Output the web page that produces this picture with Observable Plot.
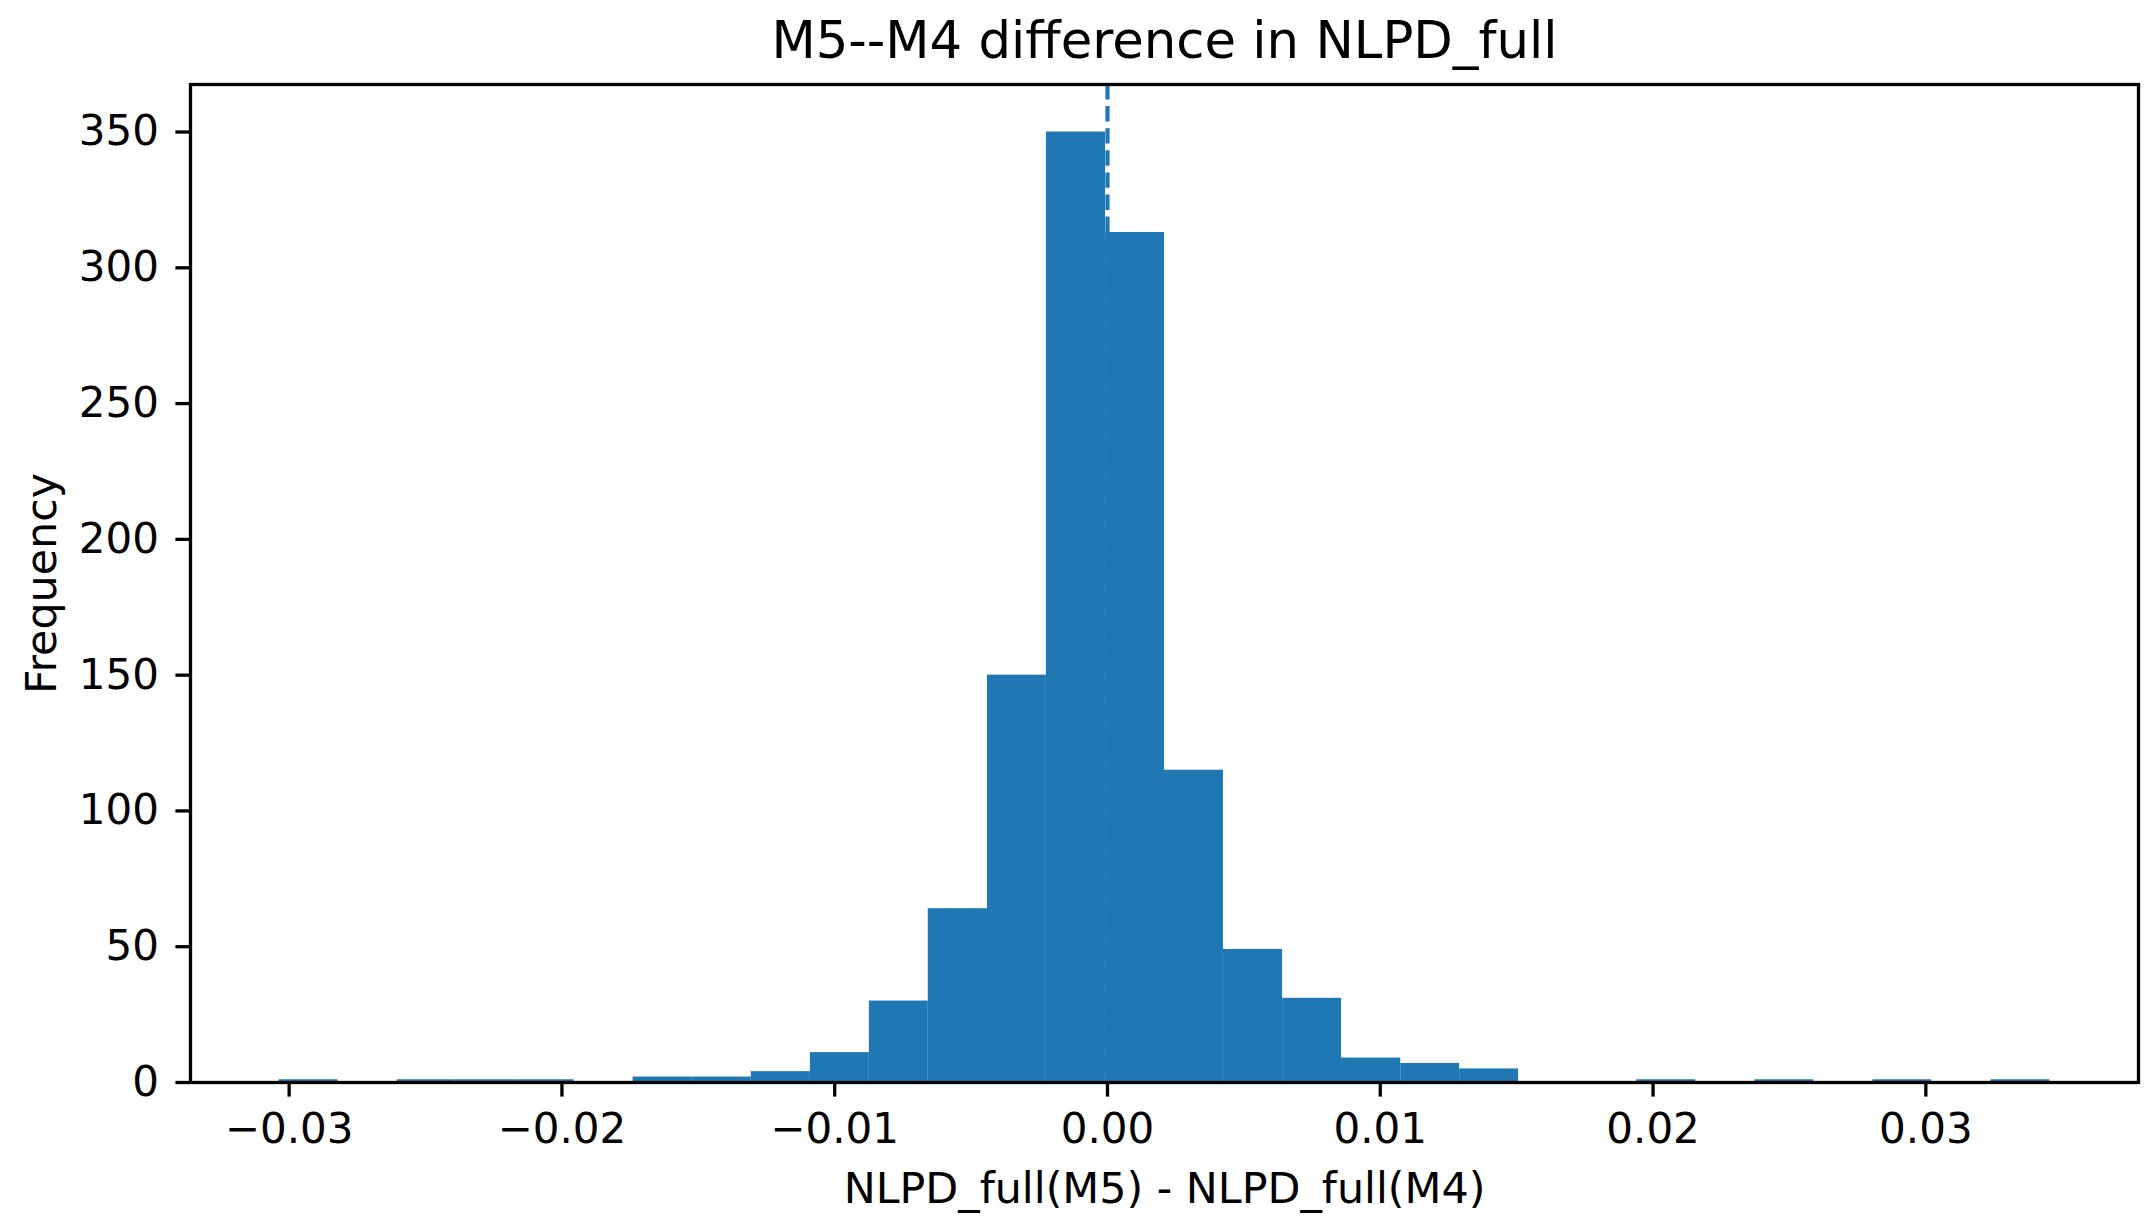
<!DOCTYPE html>
<html>
<head>
<meta charset="utf-8">
<script src="https://cdn.jsdelivr.net/npm/d3@7"></script>
<script src="https://cdn.jsdelivr.net/npm/@observablehq/plot@0.6"></script>
<style>
  html, body { margin: 0; padding: 0; background: #fff; }
</style>
</head>
<body>
<div id="chart"></div>
<script>
// ---- data ----
const binEdges = [
  -0.03037, -0.02821, -0.02604, -0.02388, -0.02171, -0.01955, -0.01739, -0.01522,
  -0.01306, -0.01089, -0.00873, -0.00657, -0.00440, -0.00224, -0.00007, 0.00209,
  0.00425, 0.00642, 0.00858, 0.01075, 0.01291, 0.01507, 0.01724, 0.01940,
  0.02157, 0.02373, 0.02589, 0.02806, 0.03022, 0.03239, 0.03455
];
const counts = [
  1, 0, 1, 1, 1, 0, 2, 2, 4, 11, 30, 64, 150, 350, 313,
  115, 49, 31, 9, 7, 5, 0, 0, 1, 0, 1, 0, 1, 0, 1
];
const xTicks = [-0.03, -0.02, -0.01, 0.00, 0.01, 0.02, 0.03];
const yTicks = [0, 50, 100, 150, 200, 250, 300, 350];
const referenceValue = [0];
const titleText = "M5--M4 difference in NLPD_full";
const xLabelText = "NLPD_full(M5) - NLPD_full(M4)";
const yLabelText = "Frequency";

const bins = counts.map((c, i) => ({x1: binEdges[i], x2: binEdges[i + 1], count: c}));
const fmt = d3.format(".2f");

const chart = Plot.plot({
  width: 2155,
  height: 1231,
  marginLeft: 190,
  marginRight: 17,
  marginTop: 84,
  marginBottom: 149,
  style: {
    fontFamily: "'DejaVu Sans', sans-serif",
    fontSize: "42px",
    background: "#fff",
    color: "#000"
  },
  x: {domain: [-0.033616, 0.037796], label: null},
  y: {domain: [0, 367.5], label: null},
  marks: [
    Plot.rectY(bins, {x1: "x1", x2: "x2", y1: 0, y2: "count", fill: "#1f77b4"}),
    Plot.ruleX(referenceValue, {stroke: "#1f77b4", strokeWidth: 4.2, strokeDasharray: "15.4,6.7"}),
    Plot.frame({stroke: "#000", strokeWidth: 3.3}),
    Plot.axisX({ticks: xTicks, tickFormat: fmt, tickSize: 14.6, tickPadding: 16, strokeWidth: 3.3, label: null}),
    Plot.axisY({ticks: yTicks, tickSize: 14.6, tickPadding: 17, strokeWidth: 3.3, label: null}),
    Plot.text([titleText], {text: d => d, frameAnchor: "top", dy: -27, lineAnchor: "bottom", textAnchor: "middle", fontSize: 51.3}),
    Plot.text([xLabelText], {text: d => d, frameAnchor: "bottom", dy: 120, lineAnchor: "bottom", textAnchor: "middle", fontSize: 42.8}),
    Plot.text([yLabelText], {text: d => d, frameAnchor: "left", dx: -135, rotate: -90, lineAnchor: "bottom", textAnchor: "middle", fontSize: 42.8})
  ]
});
document.getElementById("chart").appendChild(chart);
</script>
</body>
</html>
